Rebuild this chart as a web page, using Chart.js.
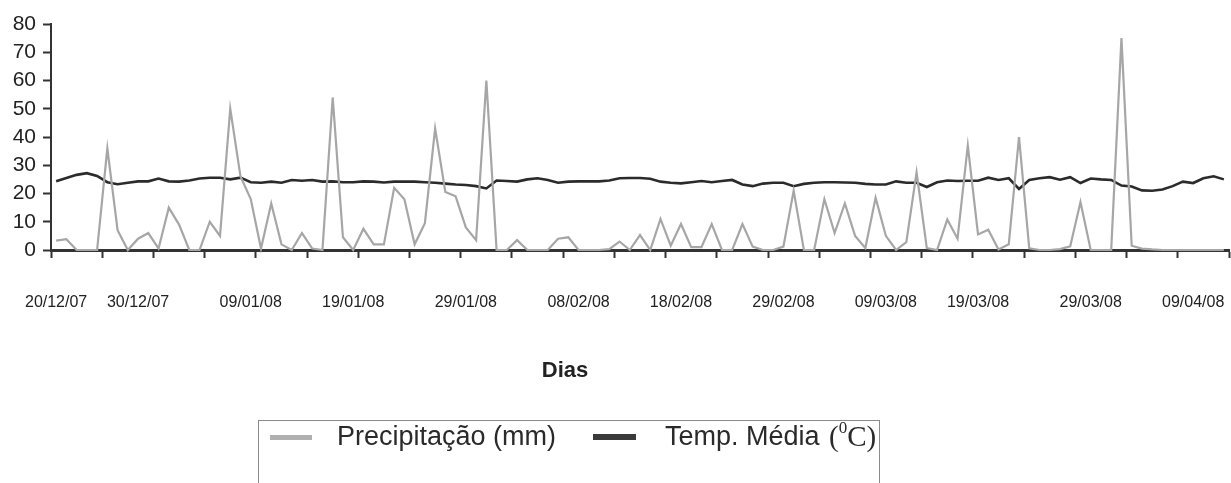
<!DOCTYPE html>
<html><head><meta charset="utf-8">
<script src="https://cdn.jsdelivr.net/npm/chart.js@4.4.0/dist/chart.umd.min.js"></script>
<style>html,body{margin:0;padding:0;background:#fff;}#wrap{width:1231px;height:483px;}</style>
</head><body><div id="wrap"><canvas id="c" width="1231" height="483"></canvas></div>
<script>
const tickLabels = ['20/12/07','30/12/07','09/01/08','19/01/08','29/01/08','08/02/08','18/02/08','29/02/08','09/03/08','19/03/08','29/03/08','09/04/08'];
const tickLabelDay = [0, 8, 19, 29, 40, 51, 61, 71, 81, 90, 101, 111];
const xTitle = 'Dias';
const precipLabel = 'Precipitação (mm)';
const tempLabel = 'Temp. Média (⁰C)';
const precipitation = [
  3.3, 3.8, 0, 0, 0, 36, 7, 0, 4, 6,
  0.5, 15, 9, 0, 0, 10, 5, 50, 26, 18,
  0.5, 16.5, 2, 0, 6, 0.5, 0, 54, 4.5, 0,
  7.5, 2, 2, 22, 18, 2, 9.5, 43, 20.5, 19,
  8, 3.5, 60, 0, 0, 3.5, 0, 0, 0, 4,
  4.5, 0, 0, 0, 0.3, 3, 0, 5.3, 0, 11,
  1.5, 9.2, 1, 1, 9.2, 0, 0, 9.2, 1.2, 0,
  0, 1.2, 21, 0, 0, 18, 6, 16.5, 5, 0.7,
  18.5, 5, 0, 2.8, 27.5, 0.7, 0, 10.8, 4, 37,
  5.5, 7.2, 0.2, 2, 40, 0.6, 0, 0, 0.3, 1.3,
  17, 0, 0, 0, 75, 1.5, 0.5, 0.2, 0, 0,
  0, 0, 0, 0, 0
];
const temperature = [
  24.3, 25.5, 26.6, 27.2, 26.2, 24, 23.3, 23.8, 24.3, 24.3,
  25.3, 24.3, 24.2, 24.6, 25.3, 25.6, 25.6, 25, 25.6, 24,
  23.8, 24.2, 23.8, 24.8, 24.5, 24.8, 24.2, 24.3, 24, 24,
  24.3, 24.2, 23.9, 24.2, 24.2, 24.2, 24, 23.8, 23.5, 23.2,
  23, 22.6, 21.8, 24.6, 24.4, 24.2, 25, 25.4, 24.8, 23.8,
  24.2, 24.3, 24.3, 24.3, 24.6, 25.4, 25.5, 25.5, 25.2, 24.2,
  23.8, 23.6, 24, 24.4, 24, 24.4, 24.8, 23.2, 22.6, 23.5,
  23.8, 23.8, 22.6, 23.4, 23.8, 24, 24, 23.9, 23.8, 23.4,
  23.2, 23.2, 24.3, 23.8, 23.8, 22.3, 24, 24.6, 24.4, 24.5,
  24.5, 25.6, 24.8, 25.4, 21.6, 24.8, 25.4, 25.8, 24.9, 25.8,
  23.7, 25.3, 25, 24.8, 22.8, 22.5, 21.1, 21, 21.4, 22.6,
  24.2, 23.7, 25.4, 26.1, 25
];
const days = precipitation.map((_, i) => i + 1);

const extras = {
  id: 'extras',
  afterDraw(chart) {
    const c = chart.ctx;
    const ds = chart.data.datasets;
    c.save();
    c.fillStyle = '#222';
    c.font = 'bold 22px "Liberation Sans", Arial, sans-serif';
    c.textAlign = 'center';
    c.textBaseline = 'middle';
    c.fillText(xTitle, 565, 371);
    c.strokeStyle = '#8a8a8a';
    c.lineWidth = 1;
    c.strokeRect(258.5, 420.5, 621, 90);
    c.textAlign = 'left';
    c.fillStyle = '#b0b0b0';
    c.fillRect(270, 435, 42, 5);
    c.fillStyle = '#3a3a3a';
    c.fillRect(593, 434, 43, 6);
    c.fillStyle = '#2a2a2a';
    c.font = '27px "Liberation Sans", Arial, sans-serif';
    c.fillText(ds[0].label, 337, 438);
    const base = tempLabel.split('(')[0];
    c.fillText(base, 665, 438);
    let x = 665 + c.measureText(base).width + 2;
    c.font = '29px "Liberation Serif", "Times New Roman", serif';
    c.fillText('(', x, 438); x += c.measureText('(').width;
    c.font = '17px "Liberation Serif", "Times New Roman", serif';
    c.fillText('0', x, 429); x += c.measureText('0').width;
    c.font = '29px "Liberation Serif", "Times New Roman", serif';
    c.fillText('C)', x, 438);
    c.restore();
  }
};

new Chart(document.getElementById('c'), {
  type: 'line',
  data: {
    labels: days,
    datasets: [
      { label: precipLabel, data: precipitation, borderColor: '#a6a6a6', borderWidth: 2.2, pointRadius: 0, tension: 0, clip: false },
      { label: tempLabel, data: temperature, borderColor: '#2b2b2b', borderWidth: 2.6, pointRadius: 0, tension: 0, clip: false }
    ]
  },
  options: {
    responsive: false,
    animation: false,
    devicePixelRatio: 1,
    layout: { padding: { top: 24, right: 2, left: 0, bottom: 0 } },
    plugins: { legend: { display: false }, tooltip: { enabled: false } },
    scales: {
      x: {
        type: 'category',
        offset: true,
        grid: {
          offset: true, drawOnChartArea: false, drawTicks: true, tickLength: 8, tickWidth: 2,
          tickColor: (ctx) => (ctx.type !== 'tick' || ctx.index % 5 === 0) ? '#333' : 'rgba(0,0,0,0)'
        },
        border: { display: true, color: '#333', width: 3 },
        ticks: {
          autoSkip: false, maxRotation: 0, minRotation: 0, padding: 35, color: '#222',
          font: { family: '"Liberation Sans", Arial, sans-serif', size: 16 },
          callback: (v, i) => { const k = tickLabelDay.indexOf(i); return k >= 0 ? tickLabels[k] : ''; }
        },
        afterFit: (s) => { s.height = 233; s.paddingLeft = 0; s.paddingRight = 0; }
      },
      y: {
        min: 0, max: 80,
        ticks: { stepSize: 10, padding: 7, color: '#222', font: { family: '"Liberation Sans", Arial, sans-serif', size: 21 } },
        grid: { drawOnChartArea: false, tickLength: 8, tickWidth: 2, tickColor: '#333' },
        border: { display: true, color: '#333', width: 2 },
        afterFit: (s) => { s.width = 51; s.paddingTop = 0; s.paddingBottom = 0; }
      }
    }
  },
  plugins: [extras]
});
</script></body></html>
